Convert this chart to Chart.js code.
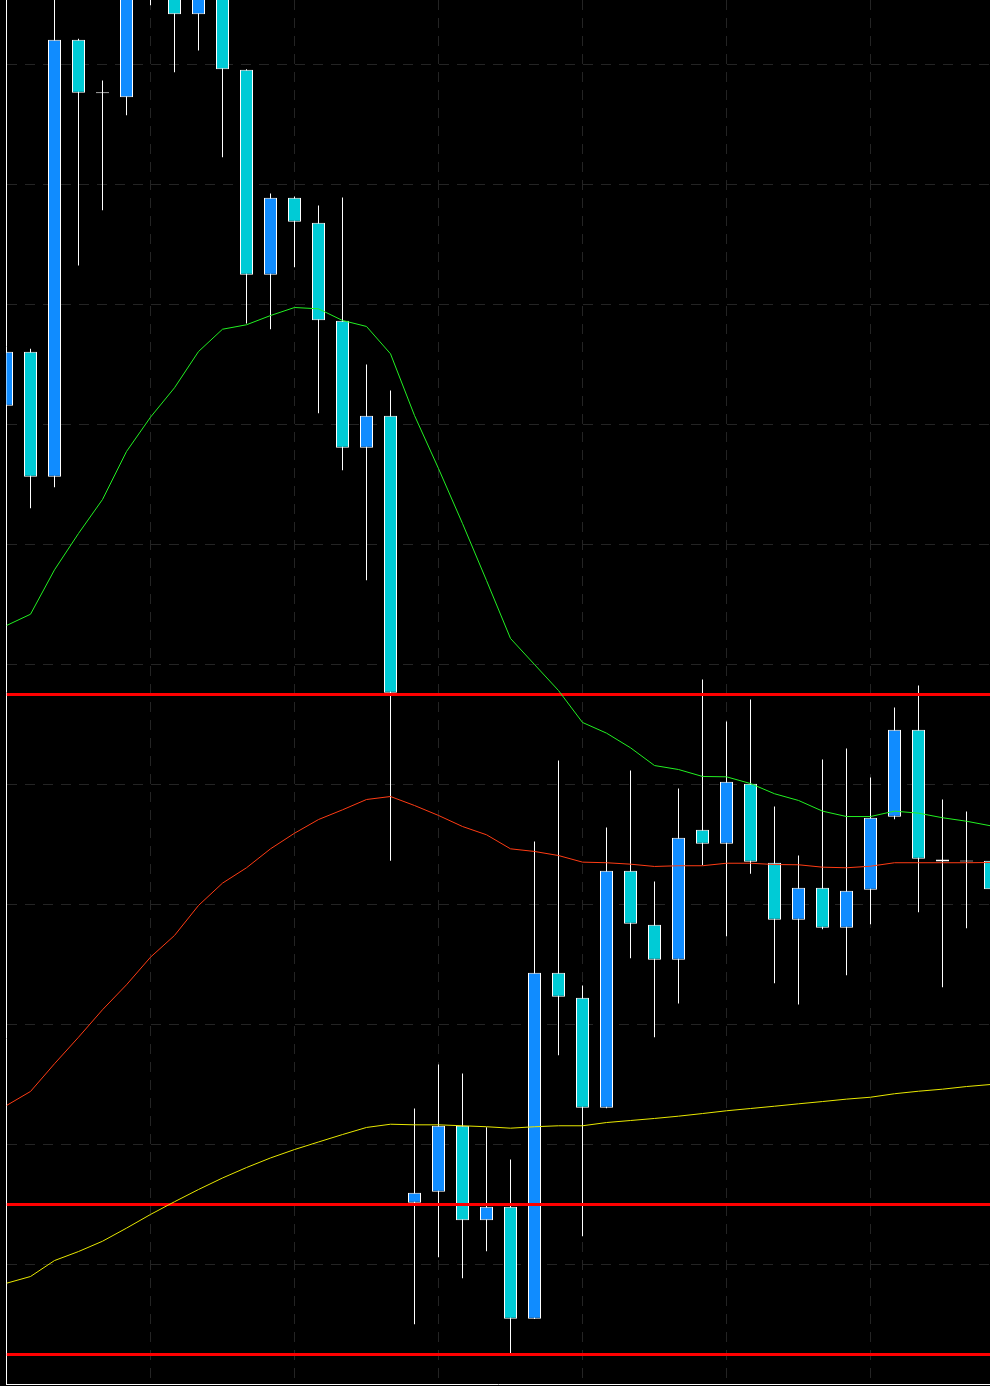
<!DOCTYPE html>
<html>
<head>
<meta charset="utf-8">
<style>
    html, body { margin: 0; padding: 0; background: #000; overflow: hidden; }
    #wrap { width: 990px; height: 1386px; }
</style>
<script src="https://cdn.jsdelivr.net/npm/chart.js@4.4.1/dist/chart.umd.min.js"></script>
</head>
<body>
<div id="wrap"><canvas id="priceChart"></canvas></div>
<script>
// bar index on the time axis (42 bars, the first and last are cut by the frame)
const bars = Array.from({ length: 42 }, (_, i) => i);

const opens = [108.156, 108.606, 107.564, 111.206, 110.768, 110.728, 111.867, 112.158, 111.419, 111.783,
    110.956, 109.248, 109.889, 109.681, 108.864, 107.806, 108.073, 101.514, 101.606, 102.156,
    101.369, 101.481, 100.548, 103.431, 103.223, 102.306, 104.281, 103.831, 103.539, 104.623,
    104.506, 105.006, 104.348, 103.873, 104.139, 103.806, 104.123, 104.731, 105.456, 104.375,
    104.367, 104.364];
const highs = [108.650, 108.631, 111.658, 111.214, 110.867, 112.033, 112.450, 112.325, 111.992, 111.908,
    110.960, 109.925, 109.900, 109.825, 109.892, 108.500, 108.283, 102.300, 102.667, 102.592,
    102.144, 101.875, 104.525, 105.200, 103.325, 104.642, 105.117, 104.192, 104.967, 105.875,
    105.525, 105.708, 104.817, 104.408, 105.208, 105.300, 105.058, 105.642, 105.825, 104.875,
    104.775, 104.450];
const lows = [108.100, 107.303, 107.478, 109.325, 109.786, 110.578, 111.494, 110.936, 111.117, 110.228,
    108.842, 108.794, 109.311, 108.094, 107.619, 106.703, 104.364, 100.503, 101.061, 100.886,
    101.111, 100.261, 100.545, 102.744, 101.236, 102.303, 103.553, 102.894, 103.175, 104.328,
    103.736, 104.256, 103.344, 103.167, 103.794, 103.411, 103.836, 104.711, 103.936, 103.311,
    103.803, 104.000];
const closes = [108.606, 107.564, 111.206, 110.764, 110.760, 111.867, 112.158, 111.419, 111.783, 110.961,
    109.248, 109.889, 109.689, 108.869, 107.806, 108.073, 105.764, 101.598, 102.156, 101.369,
    101.481, 100.548, 103.431, 103.231, 102.306, 104.281, 103.839, 103.539, 104.556, 104.506,
    105.023, 104.356, 103.873, 104.139, 103.806, 104.114, 104.723, 105.456, 104.381, 104.358,
    104.358, 104.128];

// moving averages
const maFast = [106.325, 106.419, 106.789, 107.092, 107.375, 107.775, 108.061, 108.306, 108.608, 108.794,
    108.831, 108.908, 108.975, 108.964, 108.867, 108.817, 108.589, 108.075, 107.633, 107.175,
    106.700, 106.217, 106.000, 105.783, 105.517, 105.428, 105.306, 105.158, 105.125, 105.067,
    105.064, 105.008, 104.923, 104.867, 104.778, 104.733, 104.733, 104.778, 104.761, 104.723,
    104.694, 104.656];
const maMid = [102.325, 102.442, 102.673, 102.894, 103.123, 103.331, 103.561, 103.742, 103.992, 104.178,
    104.306, 104.464, 104.594, 104.708, 104.789, 104.875, 104.900, 104.825, 104.742, 104.650,
    104.581, 104.464, 104.442, 104.408, 104.353, 104.348, 104.336, 104.317, 104.323, 104.323,
    104.344, 104.344, 104.333, 104.331, 104.311, 104.306, 104.319, 104.348, 104.348, 104.348,
    104.348, 104.350];
const maSlow = [100.844, 100.900, 101.033, 101.108, 101.194, 101.303, 101.417, 101.523, 101.625, 101.721,
    101.808, 101.888, 101.958, 102.021, 102.083, 102.142, 102.169, 102.164, 102.164, 102.156,
    102.148, 102.136, 102.148, 102.156, 102.156, 102.183, 102.200, 102.217, 102.236, 102.258,
    102.281, 102.300, 102.319, 102.339, 102.358, 102.378, 102.394, 102.423, 102.444, 102.461,
    102.483, 102.500];

// horizontal levels
const levels = [105.75, 101.50, 100.25];

// axis range and grid
const xMin = 0, xMax = 40.979;
const yMin = 100, yMax = 111.5375;
const xGridTicks = [6, 12, 18, 24, 30, 36];
const yGridTicks = [101, 102, 103, 104, 105, 106, 107, 108, 109, 110, 111];

document.addEventListener("DOMContentLoaded", function () {
    const ctx = document.getElementById('priceChart').getContext('2d');

    const bullColor = '#108cff';
    const bearColor = '#00cbd6';
    const bodyColors = bars.map(i => closes[i] >= opens[i] ? bullColor : bearColor);

    const levelSets = levels.map(lv => ({
        type: 'line',
        data: [{ x: xMin, y: lv }, { x: xMax, y: lv }],
        borderColor: '#ff0000',
        borderWidth: 3,
        pointRadius: 0,
        fill: false,
        order: 0
    }));

    const maLine = (values, color) => ({
        type: 'line',
        data: values,
        borderColor: color,
        borderWidth: 1,
        pointRadius: 0,
        tension: 0,
        fill: false,
        clip: 0,
        order: 0
    });

    new Chart(ctx, {
        type: 'bar',
        data: {
            labels: bars,
            datasets: [
                maLine(maFast, '#22f022'),
                maLine(maMid, '#ff3c14'),
                maLine(maSlow, '#e8e800'),
                ...levelSets,
                {
                    // candle bodies
                    data: bars.map(i => [opens[i], closes[i]]),
                    backgroundColor: bodyColors,
                    borderColor: '#ffffff',
                    borderWidth: 1,
                    borderSkipped: false,
                    barThickness: 13,
                    inflateAmount: 0,
                    grouped: false,
                    clip: 0,
                    order: 1
                },
                {
                    // wicks
                    data: bars.map(i => [lows[i], highs[i]]),
                    backgroundColor: '#ffffff',
                    borderWidth: 0,
                    barThickness: 1,
                    inflateAmount: 0,
                    grouped: false,
                    clip: 0,
                    order: 2
                }
            ]
        },
        options: {
            responsive: true,
            maintainAspectRatio: false,
            animation: false,
            layout: { padding: { left: 6.5, right: 0, top: 0, bottom: 1.5 } },
            plugins: {
                legend: { display: false },
                tooltip: { enabled: false }
            },
            scales: {
                x: {
                    type: 'linear',
                    min: xMin,
                    max: xMax,
                    offset: false,
                    afterBuildTicks: axis => { axis.ticks = xGridTicks.map(v => ({ value: v })); },
                    ticks: { display: false },
                    grid: { color: '#242424', drawTicks: false, offset: false },
                    border: { color: '#ffffff', width: 1, dash: [10, 8] }
                },
                y: {
                    min: yMin,
                    max: yMax,
                    afterBuildTicks: axis => { axis.ticks = yGridTicks.map(v => ({ value: v })); },
                    ticks: { display: false },
                    grid: { color: '#242424', drawTicks: false },
                    border: { color: '#ffffff', width: 1, dash: [10, 8] }
                }
            }
        }
    });
});
</script>
</body>
</html>
